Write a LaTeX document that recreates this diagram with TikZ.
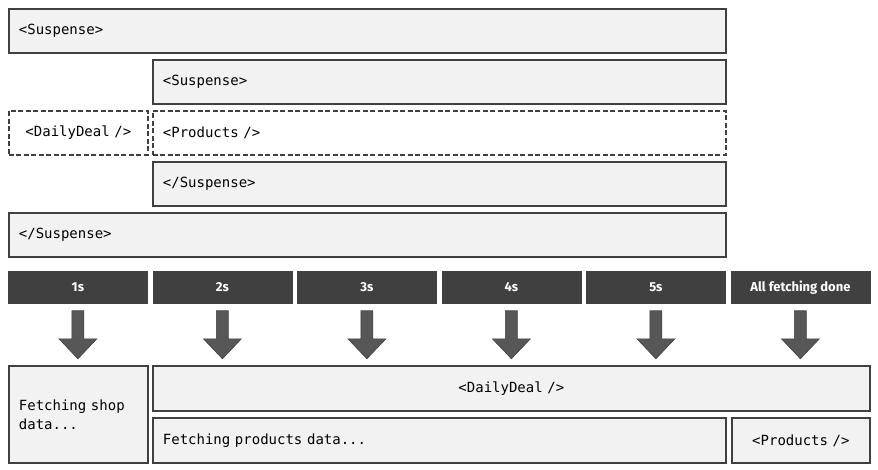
\documentclass[tikz,border=0pt]{standalone}
\usepackage{fontspec}
\setmainfont{DejaVu Sans}
\newfontfamily\codefont{DejaVu Sans Mono}
\newfontfamily\labelfont{Fira Sans}
\definecolor{dk}{HTML}{404040}
\definecolor{lg}{HTML}{F2F2F2}
\definecolor{arr}{HTML}{575757}
\begin{document}
\begin{tikzpicture}[x=1pt,y=-1pt,
  box/.style={draw=dk, fill=lg, line width=1.8pt, rectangle, anchor=north west,
    inner xsep=10pt, inner ysep=0pt, align=left, font=\codefont\fontsize{14}{19}\selectfont},
  cbox/.style={box, align=center},
  dbox/.style={box, fill=white, line width=1.8pt, dash pattern=on 5pt off 2.5pt},
  timebar/.style={draw=dk, fill=dk, line width=0.8pt, rectangle, anchor=north west,
    minimum width=139pt, minimum height=32pt, inner sep=0pt, text=white,
    font=\labelfont\bfseries\fontsize{13}{15}\selectfont},
  blockarrow/.style={fill=arr, draw=dk, line width=0.6pt}
]
\useasboundingbox (0,0) rectangle (878,470);
% top stack
\node[box, text width=697pt, minimum height=44pt] (s1) at (8,8) {<Suspense>};
\node[box, text width=553pt, minimum height=44pt] (s2) at (152,59) {<Suspense>};
\node[dbox, align=center, text width=119pt, minimum height=44pt] (dd) at (8,110) {<DailyDeal />};
\node[dbox, text width=553pt, minimum height=44pt] (pr) at (152,110) {<Products />};
\node[box, text width=553pt, minimum height=44pt] (s3) at (152,161) {</Suspense>};
\node[box, text width=697pt, minimum height=44pt] (s4) at (8,212) {</Suspense>};
% time bars
\node[timebar] (t1) at (8,271) {1s};
\node[timebar] (t2) at (152.5,271) {2s};
\node[timebar] (t3) at (297,271) {3s};
\node[timebar] (t4) at (441.5,271) {4s};
\node[timebar] (t5) at (586,271) {5s};
\node[timebar] (t6) at (730.5,271) {All fetching done};
% block arrows
\foreach \t in {t1,t2,t3,t4,t5,t6}{
  \draw[blockarrow] ([xshift=-6pt,yshift=-7pt]\t.south) -- ([xshift=6pt,yshift=-7pt]\t.south)
    -- ([xshift=6pt,yshift=-35pt]\t.south) -- ([xshift=19pt,yshift=-35pt]\t.south)
    -- ([yshift=-55pt]\t.south) -- ([xshift=-19pt,yshift=-35pt]\t.south)
    -- ([xshift=-6pt,yshift=-35pt]\t.south) -- cycle;
}
% bottom
\node[box, text width=119pt, minimum height=97pt] (fs) at (8,365) {Fetching shop\\data...};
\node[cbox, text width=697pt, minimum height=45pt] (bd) at (152,365) {<DailyDeal />};
\node[box, text width=553pt, minimum height=45pt] (fp) at (152,417) {Fetching products data...};
\node[cbox, text width=118pt, minimum height=45pt] (bp) at (731,417) {<Products />};
\end{tikzpicture}
\end{document}
